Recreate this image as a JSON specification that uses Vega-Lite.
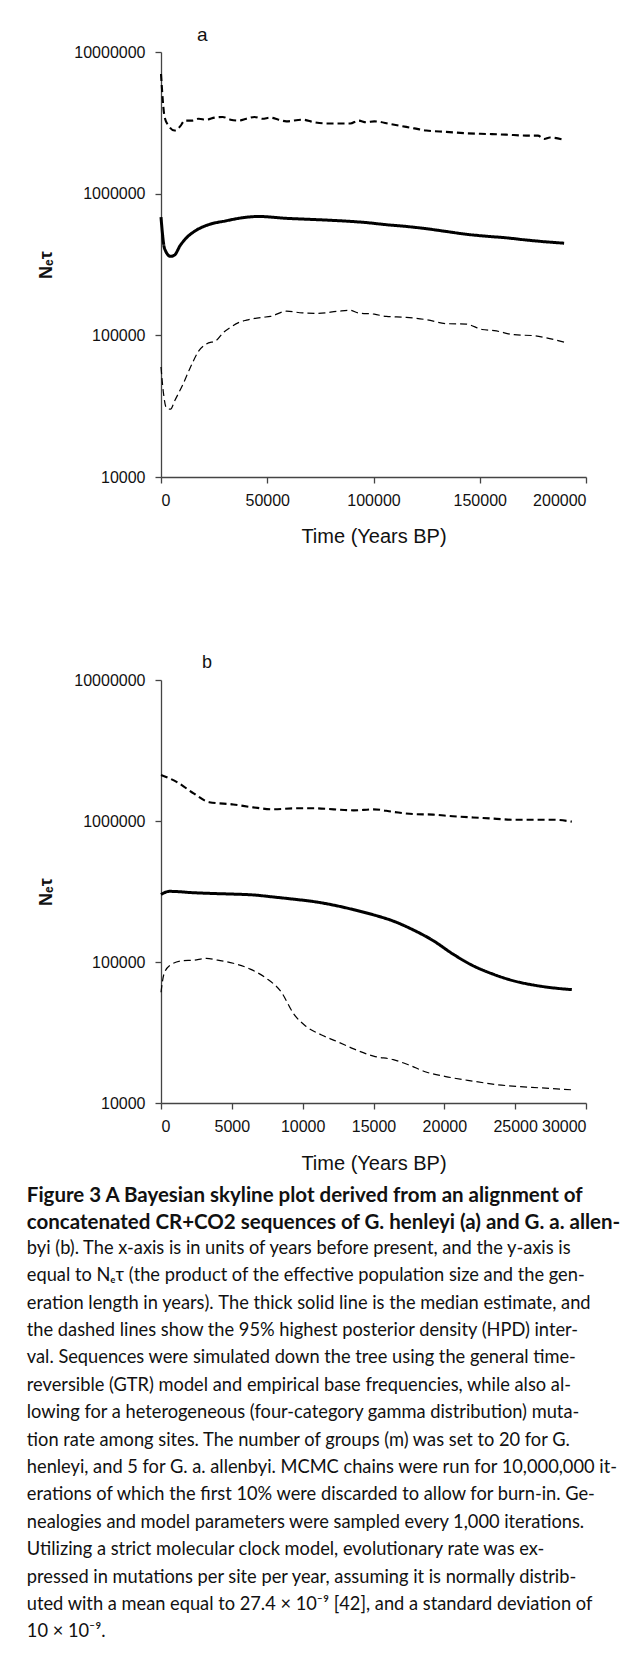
{
  "$schema": "https://vega.github.io/schema/vega-lite/v6.json",
  "padding": {"left": 26, "top": 26, "right": 0, "bottom": 0},
  "background": "white",
  "datasets": {
    "a": [
      {"series": "median", "t": 0, "ne": 682000},
      {"series": "median", "t": 1700, "ne": 409000},
      {"series": "median", "t": 4500, "ne": 361000},
      {"series": "median", "t": 6400, "ne": 369000},
      {"series": "median", "t": 9000, "ne": 430000},
      {"series": "median", "t": 12000, "ne": 488000},
      {"series": "median", "t": 16000, "ne": 545000},
      {"series": "median", "t": 21400, "ne": 597000},
      {"series": "median", "t": 30800, "ne": 644000},
      {"series": "median", "t": 40200, "ne": 682000},
      {"series": "median", "t": 45900, "ne": 690000},
      {"series": "median", "t": 59000, "ne": 670000},
      {"series": "median", "t": 77800, "ne": 651000},
      {"series": "median", "t": 87200, "ne": 640000},
      {"series": "median", "t": 96600, "ne": 625000},
      {"series": "median", "t": 106000, "ne": 604000},
      {"series": "median", "t": 115400, "ne": 587000},
      {"series": "median", "t": 124800, "ne": 566000},
      {"series": "median", "t": 134200, "ne": 541000},
      {"series": "median", "t": 143600, "ne": 517000},
      {"series": "median", "t": 153000, "ne": 501000},
      {"series": "median", "t": 162400, "ne": 488000},
      {"series": "median", "t": 171800, "ne": 471000},
      {"series": "median", "t": 181200, "ne": 457000},
      {"series": "median", "t": 189700, "ne": 447000},
      {"series": "upper", "t": 0, "ne": 7000000},
      {"series": "upper", "t": 1700, "ne": 3480000},
      {"series": "upper", "t": 3600, "ne": 3010000},
      {"series": "upper", "t": 6400, "ne": 2790000},
      {"series": "upper", "t": 9200, "ne": 3010000},
      {"series": "upper", "t": 11100, "ne": 3280000},
      {"series": "upper", "t": 14800, "ne": 3280000},
      {"series": "upper", "t": 17700, "ne": 3380000},
      {"series": "upper", "t": 21400, "ne": 3330000},
      {"series": "upper", "t": 25200, "ne": 3440000},
      {"series": "upper", "t": 29000, "ne": 3480000},
      {"series": "upper", "t": 32700, "ne": 3330000},
      {"series": "upper", "t": 36500, "ne": 3280000},
      {"series": "upper", "t": 40200, "ne": 3380000},
      {"series": "upper", "t": 44000, "ne": 3480000},
      {"series": "upper", "t": 47700, "ne": 3380000},
      {"series": "upper", "t": 51500, "ne": 3440000},
      {"series": "upper", "t": 55300, "ne": 3330000},
      {"series": "upper", "t": 59000, "ne": 3240000},
      {"series": "upper", "t": 66500, "ne": 3330000},
      {"series": "upper", "t": 72200, "ne": 3190000},
      {"series": "upper", "t": 77800, "ne": 3130000},
      {"series": "upper", "t": 89100, "ne": 3130000},
      {"series": "upper", "t": 92900, "ne": 3280000},
      {"series": "upper", "t": 96600, "ne": 3190000},
      {"series": "upper", "t": 100400, "ne": 3240000},
      {"series": "upper", "t": 107900, "ne": 3100000},
      {"series": "upper", "t": 115400, "ne": 2960000},
      {"series": "upper", "t": 119200, "ne": 2890000},
      {"series": "upper", "t": 124800, "ne": 2790000},
      {"series": "upper", "t": 134200, "ne": 2730000},
      {"series": "upper", "t": 143600, "ne": 2670000},
      {"series": "upper", "t": 153000, "ne": 2640000},
      {"series": "upper", "t": 162400, "ne": 2610000},
      {"series": "upper", "t": 171800, "ne": 2570000},
      {"series": "upper", "t": 177400, "ne": 2570000},
      {"series": "upper", "t": 180300, "ne": 2430000},
      {"series": "upper", "t": 183000, "ne": 2490000},
      {"series": "upper", "t": 189700, "ne": 2400000},
      {"series": "lower", "t": 0, "ne": 59700},
      {"series": "lower", "t": 1100, "ne": 39800},
      {"series": "lower", "t": 2600, "ne": 30600},
      {"series": "lower", "t": 4500, "ne": 30100},
      {"series": "lower", "t": 6400, "ne": 34400},
      {"series": "lower", "t": 10200, "ne": 44700},
      {"series": "lower", "t": 13900, "ne": 59700},
      {"series": "lower", "t": 17700, "ne": 77400},
      {"series": "lower", "t": 21400, "ne": 87000},
      {"series": "lower", "t": 26100, "ne": 92200},
      {"series": "lower", "t": 29000, "ne": 103500},
      {"series": "lower", "t": 32700, "ne": 114000},
      {"series": "lower", "t": 36500, "ne": 123000},
      {"series": "lower", "t": 40200, "ne": 128000},
      {"series": "lower", "t": 47700, "ne": 134000},
      {"series": "lower", "t": 51500, "ne": 136000},
      {"series": "lower", "t": 59000, "ne": 148000},
      {"series": "lower", "t": 66500, "ne": 144000},
      {"series": "lower", "t": 74000, "ne": 143000},
      {"series": "lower", "t": 83500, "ne": 148000},
      {"series": "lower", "t": 89100, "ne": 150000},
      {"series": "lower", "t": 92900, "ne": 144000},
      {"series": "lower", "t": 100400, "ne": 141000},
      {"series": "lower", "t": 106000, "ne": 136000},
      {"series": "lower", "t": 115400, "ne": 134000},
      {"series": "lower", "t": 124800, "ne": 129000},
      {"series": "lower", "t": 134200, "ne": 121000},
      {"series": "lower", "t": 143600, "ne": 120000},
      {"series": "lower", "t": 151100, "ne": 110000},
      {"series": "lower", "t": 156800, "ne": 108000},
      {"series": "lower", "t": 166200, "ne": 101000},
      {"series": "lower", "t": 175600, "ne": 99400},
      {"series": "lower", "t": 181200, "ne": 96000},
      {"series": "lower", "t": 189700, "ne": 89600}
    ],
    "b": [
      {"series": "median", "t": 0, "ne": 301000},
      {"series": "median", "t": 340, "ne": 313000},
      {"series": "median", "t": 620, "ne": 317000},
      {"series": "median", "t": 2300, "ne": 310000},
      {"series": "median", "t": 3700, "ne": 306000},
      {"series": "median", "t": 5100, "ne": 303000},
      {"series": "median", "t": 6500, "ne": 299000},
      {"series": "median", "t": 7950, "ne": 289000},
      {"series": "median", "t": 9360, "ne": 279000},
      {"series": "median", "t": 10800, "ne": 268000},
      {"series": "median", "t": 12200, "ne": 253000},
      {"series": "median", "t": 13600, "ne": 235000},
      {"series": "median", "t": 15000, "ne": 216000},
      {"series": "median", "t": 16400, "ne": 195000},
      {"series": "median", "t": 17800, "ne": 169000},
      {"series": "median", "t": 19200, "ne": 142000},
      {"series": "median", "t": 20600, "ne": 114000},
      {"series": "median", "t": 22000, "ne": 94400},
      {"series": "median", "t": 23500, "ne": 81600},
      {"series": "median", "t": 24900, "ne": 73500},
      {"series": "median", "t": 26300, "ne": 68600},
      {"series": "median", "t": 27700, "ne": 65500},
      {"series": "median", "t": 29000, "ne": 63700},
      {"series": "upper", "t": 0, "ne": 2120000},
      {"series": "upper", "t": 1200, "ne": 1870000},
      {"series": "upper", "t": 2300, "ne": 1570000},
      {"series": "upper", "t": 3400, "ne": 1360000},
      {"series": "upper", "t": 5100, "ne": 1310000},
      {"series": "upper", "t": 6500, "ne": 1250000},
      {"series": "upper", "t": 7950, "ne": 1210000},
      {"series": "upper", "t": 9360, "ne": 1230000},
      {"series": "upper", "t": 10800, "ne": 1230000},
      {"series": "upper", "t": 12200, "ne": 1210000},
      {"series": "upper", "t": 13600, "ne": 1190000},
      {"series": "upper", "t": 15000, "ne": 1210000},
      {"series": "upper", "t": 16400, "ne": 1160000},
      {"series": "upper", "t": 17800, "ne": 1120000},
      {"series": "upper", "t": 19200, "ne": 1110000},
      {"series": "upper", "t": 20600, "ne": 1080000},
      {"series": "upper", "t": 22000, "ne": 1060000},
      {"series": "upper", "t": 23500, "ne": 1040000},
      {"series": "upper", "t": 24900, "ne": 1020000},
      {"series": "upper", "t": 26300, "ne": 1020000},
      {"series": "upper", "t": 27700, "ne": 1020000},
      {"series": "upper", "t": 29000, "ne": 990000},
      {"series": "lower", "t": 0, "ne": 61000},
      {"series": "lower", "t": 200, "ne": 81600},
      {"series": "lower", "t": 620, "ne": 94400},
      {"series": "lower", "t": 1500, "ne": 102000},
      {"series": "lower", "t": 2300, "ne": 103000},
      {"series": "lower", "t": 3200, "ne": 106000},
      {"series": "lower", "t": 4000, "ne": 103000},
      {"series": "lower", "t": 5100, "ne": 98000},
      {"series": "lower", "t": 6300, "ne": 89000},
      {"series": "lower", "t": 7400, "ne": 77000},
      {"series": "lower", "t": 8500, "ne": 61000},
      {"series": "lower", "t": 9360, "ne": 43000},
      {"series": "lower", "t": 10200, "ne": 35200},
      {"series": "lower", "t": 11300, "ne": 30500},
      {"series": "lower", "t": 12500, "ne": 27100},
      {"series": "lower", "t": 13600, "ne": 24200},
      {"series": "lower", "t": 15000, "ne": 21500},
      {"series": "lower", "t": 16400, "ne": 20300},
      {"series": "lower", "t": 17500, "ne": 18600},
      {"series": "lower", "t": 18700, "ne": 16600},
      {"series": "lower", "t": 20100, "ne": 15400},
      {"series": "lower", "t": 22000, "ne": 14300},
      {"series": "lower", "t": 23700, "ne": 13500},
      {"series": "lower", "t": 25100, "ne": 13100},
      {"series": "lower", "t": 26800, "ne": 12800},
      {"series": "lower", "t": 29000, "ne": 12400}
    ]
  },
  "title": {
    "text": [
      "Figure 3 A Bayesian skyline plot derived from an alignment of",
      "concatenated CR+CO2 sequences of G. henleyi (a) and G. a. allen-"
    ],
    "subtitle": [
      "byi (b). The x-axis is in units of years before present, and the y-axis is",
      "equal to Nₑτ (the product of the effective population size and the gen-",
      "eration length in years). The thick solid line is the median estimate, and",
      "the dashed lines show the 95% highest posterior density (HPD) inter-",
      "val. Sequences were simulated down the tree using the general time-",
      "reversible (GTR) model and empirical base frequencies, while also al-",
      "lowing for a heterogeneous (four-category gamma distribution) muta-",
      "tion rate among sites. The number of groups (m) was set to 20 for G.",
      "henleyi, and 5 for G. a. allenbyi. MCMC chains were run for 10,000,000 it-",
      "erations of which the first 10% were discarded to allow for burn-in. Ge-",
      "nealogies and model parameters were sampled every 1,000 iterations.",
      "Utilizing a strict molecular clock model, evolutionary rate was ex-",
      "pressed in mutations per site per year, assuming it is normally distrib-",
      "uted with a mean equal to 27.4 × 10⁻⁹ [42], and a standard deviation of",
      "10 × 10⁻⁹."
    ],
    "orient": "bottom",
    "anchor": "start",
    "frame": "bounds",
    "dx": -11,
    "offset": 13,
    "font": "Lato",
    "fontSize": 20.5,
    "fontWeight": "bold",
    "color": "#111",
    "lineHeight": 27.4,
    "subtitleFont": "Lato",
    "subtitleFontSize": 18.25,
    "subtitleFontWeight": "normal",
    "subtitleColor": "#111",
    "subtitleLineHeight": 27.4,
    "subtitlePadding": 6
  },
  "spacing": 108,
  "columns": 1,
  "concat": [
    {
      "width": 425,
      "height": 425,
      "data": {"name": "a"},
      "title": {"text": "a", "anchor": "start", "frame": "group", "dx": 36, "offset": -1, "fontSize": 19, "fontWeight": "normal", "font": "Liberation Sans", "color": "#111"},
      "mark": {"type": "line", "color": "black", "interpolate": "monotone"},
      "encoding": {
        "x": {"field": "t", "type": "quantitative", "scale": {"domain": [0, 200000], "nice": false},
          "axis": {"values": [0, 50000, 100000, 150000, 200000], "format": "d", "title": "Time (Years BP)", "titlePadding": 18}},
        "y": {"field": "ne", "type": "quantitative", "scale": {"type": "log", "domain": [10000, 10000000], "nice": false},
          "axis": {"values": [10000, 100000, 1000000, 10000000], "format": "d", "title": "Nₑτ", "titleFontWeight": "bold", "titleFontSize": 18, "titlePadding": 18, "labelPadding": 10}},
        "detail": {"field": "series"},
        "strokeWidth": {"field": "series", "type": "nominal", "scale": {"domain": ["median", "upper", "lower"], "range": [3, 1.2, 1.2]}, "legend": null},
        "strokeDash": {"field": "series", "type": "nominal", "scale": {"domain": ["median", "upper", "lower"], "range": [[1, 0], [7, 4], [7, 4]]}, "legend": null}
      }
    },
    {
      "width": 425,
      "height": 423,
      "data": {"name": "b"},
      "title": {"text": "b", "anchor": "start", "frame": "group", "dx": 41, "offset": 0, "fontSize": 18, "fontWeight": "normal", "font": "Liberation Sans", "color": "#111"},
      "mark": {"type": "line", "color": "black", "interpolate": "monotone"},
      "encoding": {
        "x": {"field": "t", "type": "quantitative", "scale": {"domain": [0, 30000], "nice": false},
          "axis": {"values": [0, 5000, 10000, 15000, 20000, 25000, 30000], "format": "d", "title": "Time (Years BP)", "titlePadding": 19}},
        "y": {"field": "ne", "type": "quantitative", "scale": {"type": "log", "domain": [10000, 10000000], "nice": false},
          "axis": {"values": [10000, 100000, 1000000, 10000000], "format": "d", "title": "Nₑτ", "titleFontWeight": "bold", "titleFontSize": 18, "titlePadding": 18, "labelPadding": 10}},
        "detail": {"field": "series"},
        "strokeWidth": {"field": "series", "type": "nominal", "scale": {"domain": ["median", "upper", "lower"], "range": [3, 1.2, 1.2]}, "legend": null},
        "strokeDash": {"field": "series", "type": "nominal", "scale": {"domain": ["median", "upper", "lower"], "range": [[1, 0], [7, 4], [7, 4]]}, "legend": null}
      }
    }
  ],
  "config": {
    "view": {"stroke": null},
    "axis": {
      "grid": false,
      "labelFont": "Liberation Sans",
      "labelFontSize": 16,
      "labelColor": "#111",
      "titleFont": "Liberation Sans",
      "titleFontSize": 20,
      "titleFontWeight": "normal",
      "titleColor": "#111",
      "domainColor": "#444",
      "domainWidth": 1.3,
      "tickColor": "#444",
      "tickWidth": 1.3,
      "tickSize": 6,
      "labelPadding": 9
    }
  }
}
